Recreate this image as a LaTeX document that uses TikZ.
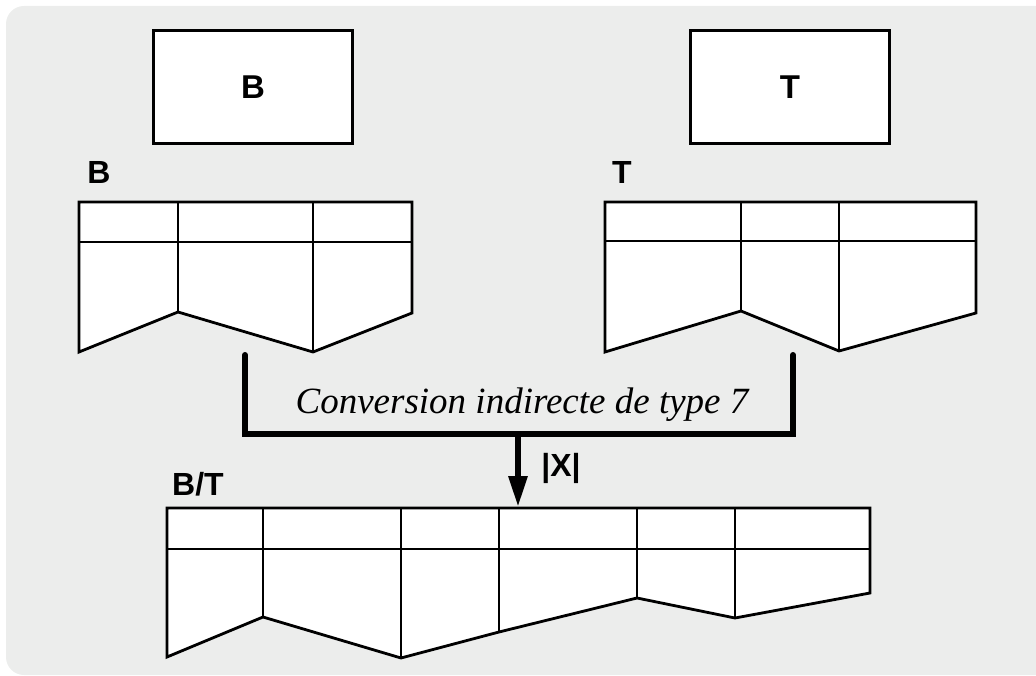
\documentclass[tikz,border=0pt]{standalone}
\usepackage{fontspec}
\setmainfont{Liberation Serif}
\newfontfamily\arialf{Liberation Sans}
\usetikzlibrary{arrows.meta}
\definecolor{bgc}{RGB}{236,237,236}
\tikzset{
  px/.style={x=1pt,y=-1pt},
  box/.style={draw=black,fill=white,line width=3pt,minimum width=199pt,minimum height=113pt,inner sep=0pt,font=\arialf\bfseries\fontsize{33}{36}\selectfont},
  lbl/.style={inner sep=0pt,font=\arialf\bfseries\fontsize{32}{36}\selectfont},
  tbl/.style={draw=black,fill=white,line width=2.8pt,line join=miter},
  tline/.style={draw=black,line width=2.8pt},
  conn/.style={draw=black,line width=6pt,line cap=round,line join=miter},
  arr/.style={draw=black,line width=6pt,-{Triangle[width=18pt,length=31pt]}},
  ital/.style={inner sep=0pt,font=\itshape\fontsize{37}{40}\selectfont}
}
\begin{document}
\begin{tikzpicture}[px]
\useasboundingbox (0,0) rectangle (1036,676);
\fill[bgc,rounded corners=18pt] (6,6) rectangle (1060,675);
% top boxes
\node[box] (boxB) at (253,87) {B};
\node[box] (boxT) at (790,87) {T};
% table labels
\node[lbl] (labB) at (99,172) {B};
\node[lbl] (labT) at (622,172) {T};
\node[lbl] (labBT) at (198,484) {B/T};
% table B
\draw[tbl] (79,202) -- (412,202) -- (412,313) -- (313,352) -- (178,312) -- (79,352) -- cycle;
\draw[tline] (79,242) -- (412,242) (178,202) -- (178,312) (313,202) -- (313,352);
% table T
\draw[tbl] (605,202) -- (976,202) -- (976,313) -- (839,351) -- (741,311) -- (605,352) -- cycle;
\draw[tline] (605,241) -- (976,241) (741,202) -- (741,311) (839,202) -- (839,351);
% table B/T
\draw[tbl] (167,508) -- (870,508) -- (870,593) -- (735,618) -- (637,598) -- (499,632) -- (401,658) -- (263,617) -- (167,657) -- cycle;
\draw[tline] (167,549) -- (870,549) (263,508) -- (263,617) (401,508) -- (401,658) (499,508) -- (499,632) (637,508) -- (637,598) (735,508) -- (735,618);
% connector
\coordinate (cL) at (245,355);
\coordinate (cR) at (793,355);
\coordinate (cM) at (518,434);
\coordinate (cTip) at (518,507);
\draw[conn] (cL) |- (cM) -| (cR);
\draw[arr] (cM) -- (cTip);
\node[ital] (conv) at (522,405) {Conversion indirecte de type 7};
\node[lbl] (labX) at (561,468) {|X|};
\end{tikzpicture}
\end{document}
